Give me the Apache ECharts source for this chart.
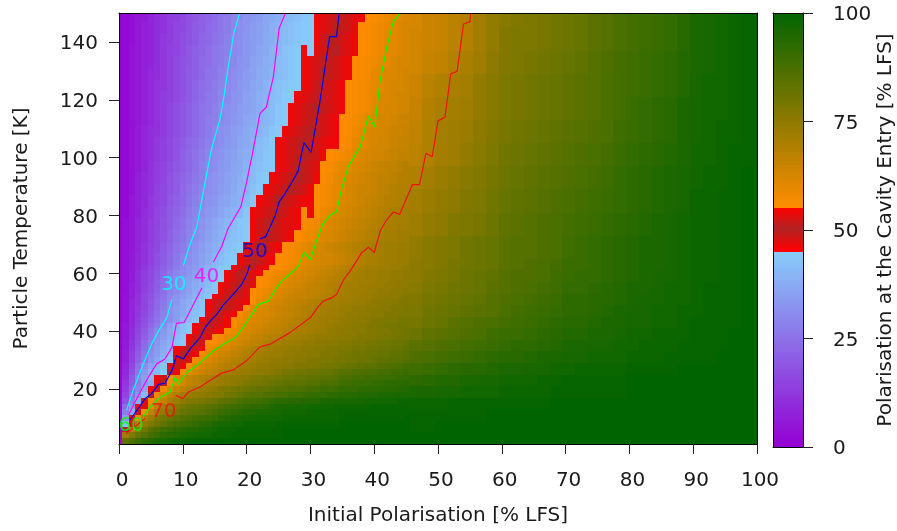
<!DOCTYPE html>
<html>
<head>
<meta charset="utf-8">
<script src="https://cdn.jsdelivr.net/npm/echarts@6/dist/echarts.min.js"></script>
<style>html,body{margin:0;background:#fff}#chart{width:897px;height:531px}</style>
</head>
<body>
<div id="chart"></div>
<script>
// temperature band edges of the rows in leftRows [K]
const rowEdges = [1,3,5,7,9,11,13,15,17,19,21,23,25,27,29,31,33,35,37,39,41,43,45,47,49,51,53,55,57,59,61,63,67,71,75,79,83,87,91,95,99,103,107,111,115,119,123,127,131,135,139,143,147,150];
// polarisation for initial polarisation 0..45 %, one row per temperature band
const leftRows = [
[2,83,87,90,92,94,95,96,97,98,98,99,99,99,99,99,100,100,100,100,100,100,100,100,100,100,100,100,100,100,100,100,100,100,100,100,100,100,100,100,100,100,100,100,100,100],
[2,72,78,82,85,88,90,92,93,94,95,96,96,97,97,98,98,98,99,99,99,99,99,99,99,99,100,100,100,100,100,100,100,100,100,100,100,100,100,100,100,100,100,100,100,100],
[2,50,68,76,80,85,87,89,90,92,93,94,94,95,96,97,98,98,98,99,99,99,99,99,99,99,100,100,100,100,100,100,100,100,100,100,100,100,100,100,100,100,100,100,100,100],
[2,42,54,68,74,78,81,83,86,88,89,90,91,92,93,95,96,96,97,97,98,98,98,98,98,99,99,99,99,99,99,99,99,99,99,100,100,100,100,100,100,100,100,100,100,100],
[2,33,46,58,69,73,77,80,82,84,86,87,88,89,90,91,93,94,95,95,96,96,97,97,97,97,98,98,98,98,98,98,98,98,98,99,99,99,99,99,99,99,99,99,99,100],
[2,27,38,51,57,66,71,74,77,79,82,83,84,85,86,88,90,91,92,93,94,94,95,95,96,96,97,97,97,97,98,98,98,98,98,99,99,99,99,99,99,99,99,99,99,99],
[2,23,34,46,53,60,67,71,74,77,79,81,82,83,84,85,87,88,89,90,91,92,92,93,94,95,95,96,96,96,97,97,97,97,98,98,98,98,98,98,99,99,99,99,99,99],
[2,18,28,38,47,56,62,66,70,73,76,77,78,79,80,81,83,84,85,87,88,88,89,90,91,92,92,93,93,94,94,94,95,95,95,96,96,96,96,97,97,97,97,97,98,98],
[2,15,24,33,41,50,58,62,66,69,72,73,74,75,76,77,78,80,81,82,84,85,85,86,87,88,88,89,89,90,91,91,91,92,92,93,93,93,94,94,94,95,95,95,96,96],
[2,13,22,29,36,46,52,58,61,64,67,69,71,73,74,75,77,78,79,80,81,82,83,83,84,85,85,86,86,87,88,88,89,89,90,91,91,91,92,92,92,93,93,93,94,94],
[2,12,20,27,34,38,46,50,56,59,62,65,67,69,71,72,73,74,75,76,78,79,79,80,81,82,83,83,84,84,85,85,86,86,87,89,89,90,90,90,91,91,92,92,92,93],
[2,10,19,29,35,41,46,48,56,60,63,65,67,69,70,72,73,74,75,75,76,77,78,79,79,80,81,81,82,82,83,83,84,84,85,87,87,88,88,89,89,89,90,90,91,91],
[2,9,17,26,33,39,41,44,50,54,56,60,62,64,66,67,69,71,72,73,73,74,75,75,76,77,79,79,80,80,81,81,82,82,83,85,85,86,86,87,87,88,88,89,89,90],
[1,8,16,24,31,36,40,43,47,51,54,56,60,62,64,65,67,68,69,71,72,73,74,74,75,75,76,76,77,77,78,78,79,80,80,81,82,82,83,84,84,85,86,86,87,88],
[1,7,14,21,27,32,36,40,43,47,51,53,56,58,61,63,65,66,68,69,70,71,72,73,74,74,75,75,76,76,77,77,78,78,79,79,80,80,81,81,82,83,83,84,84,85],
[1,7,13,20,26,31,34,38,41,46,50,52,54,56,59,61,63,64,66,67,69,70,71,72,73,73,74,74,75,75,76,76,77,77,78,79,79,80,80,81,81,82,82,83,83,84],
[1,6,12,18,24,30,34,37,39,46,48,50,52,54,56,59,61,62,64,66,67,69,70,71,72,73,73,74,74,75,75,76,76,77,77,78,78,79,79,80,80,81,81,82,82,83],
[1,6,11,17,23,28,33,36,39,42,44,47,50,52,55,56,58,60,62,63,65,66,67,69,70,71,72,72,73,74,74,75,75,76,76,77,77,78,78,79,79,80,80,81,81,82],
[1,5,10,16,21,26,31,34,37,41,43,46,48,51,53,55,57,59,60,62,63,65,66,67,68,69,70,71,71,72,73,74,74,74,75,75,76,76,77,77,78,78,79,79,80,80],
[1,5,10,15,20,25,29,33,37,40,42,44,46,50,52,53,54,56,58,60,62,63,64,65,66,67,68,69,70,70,71,72,73,74,74,75,75,76,76,77,77,78,78,79,79,80],
[1,5,9,14,18,23,27,31,35,39,42,44,46,48,50,52,53,54,56,60,61,62,63,64,65,66,67,68,69,70,71,71,72,73,74,74,75,76,76,77,78,78,79,79,80,80],
[1,4,8,13,17,21,25,29,31,34,39,41,43,46,49,51,52,54,56,58,59,61,62,63,64,65,66,67,68,69,70,71,72,72,73,74,74,75,75,76,77,77,78,78,79,79],
[1,4,8,12,16,20,24,28,31,34,37,40,42,44,47,49,51,53,54,56,59,60,61,62,63,64,65,66,67,68,70,70,71,72,72,73,74,74,75,75,76,76,77,77,78,78],
[1,4,8,12,15,19,23,27,31,34,36,39,41,43,46,48,50,51,52,53,55,59,61,62,63,64,65,66,67,68,69,70,71,71,72,73,73,74,74,75,75,76,76,77,77,78],
[1,4,8,11,15,19,23,26,30,33,36,38,41,43,46,48,49,51,52,53,54,56,59,60,62,63,64,65,66,67,68,69,70,71,71,72,72,73,73,74,75,75,76,76,77,77],
[1,4,7,11,15,18,22,25,29,32,34,37,39,41,43,46,47,49,50,52,53,55,57,59,60,62,63,64,65,65,66,67,68,69,70,71,71,72,73,73,74,74,75,75,76,77],
[1,3,7,10,14,17,21,24,28,30,33,35,38,40,42,44,46,48,49,51,53,55,57,58,59,61,62,63,64,65,66,66,67,68,70,70,71,72,72,73,73,74,74,75,75,76],
[1,3,7,10,13,17,20,24,27,30,32,35,37,39,41,43,46,47,49,50,52,53,55,57,58,60,61,62,63,64,65,66,67,68,69,70,71,71,72,72,73,73,74,74,75,75],
[1,3,6,10,13,16,20,23,26,30,32,34,36,38,41,42,44,46,48,49,51,53,55,56,58,59,60,61,62,63,64,65,66,67,68,69,70,71,71,72,72,73,73,74,74,75],
[1,3,6,10,13,16,19,22,26,29,31,33,35,38,40,42,44,46,48,50,51,53,54,56,57,58,59,60,61,62,63,64,65,66,67,68,70,70,71,72,72,73,73,74,74,75],
[1,3,6,9,12,15,18,21,24,27,30,32,34,36,39,41,43,44,46,48,49,51,53,54,55,56,57,58,60,61,62,63,64,65,66,67,68,69,70,71,71,72,72,73,73,74],
[1,3,6,9,11,14,17,20,23,26,29,31,33,35,37,40,41,43,44,46,48,50,51,53,54,55,56,57,58,60,61,62,63,63,64,65,66,67,68,70,70,71,72,72,73,73],
[1,3,5,8,11,14,16,19,22,25,27,30,32,34,36,38,40,42,43,44,46,48,50,51,53,54,55,57,58,60,61,62,63,64,65,66,67,68,69,70,71,71,72,72,73,73],
[1,3,5,8,10,13,16,18,21,24,26,29,31,33,35,37,39,41,42,43,44,46,48,50,51,52,53,54,55,57,58,59,61,62,63,64,65,66,67,68,69,70,71,71,72,72],
[1,3,5,8,10,13,15,18,20,23,25,28,30,32,34,36,38,40,41,43,44,46,48,49,50,52,53,53,54,56,57,58,60,61,62,63,64,65,66,67,68,69,70,70,71,71],
[1,2,5,7,10,12,15,17,20,22,24,27,29,31,33,34,36,38,39,40,43,46,47,48,49,51,52,53,54,56,54,56,58,59,61,62,63,64,65,66,67,68,69,70,70,71],
[1,2,5,7,9,12,14,16,19,21,23,26,28,30,32,33,35,36,38,39,41,43,46,47,48,50,51,52,53,54,54,55,57,58,59,61,62,63,64,65,66,67,68,68,69,70],
[1,2,4,7,9,11,14,16,18,20,23,25,27,29,31,32,34,35,37,39,40,42,44,46,47,48,49,50,51,52,54,55,57,58,59,60,62,63,64,64,65,66,67,68,69,69],
[1,2,4,7,9,11,13,15,18,20,22,24,26,28,31,32,33,35,36,38,40,41,43,44,46,47,48,49,50,51,52,54,56,57,59,60,61,62,63,64,65,66,66,67,68,68],
[1,2,4,6,8,11,13,15,17,19,21,23,25,28,30,31,33,34,36,37,39,41,42,43,44,46,47,48,50,51,52,53,55,56,58,59,60,61,62,63,64,65,66,66,67,68],
[1,2,4,6,8,10,12,14,16,18,21,23,25,27,29,31,32,34,35,37,38,40,41,43,44,46,47,48,49,50,51,52,54,55,56,57,58,60,61,62,63,63,64,65,66,66],
[1,2,4,6,8,10,12,14,16,18,20,22,24,26,28,30,31,33,34,36,37,39,41,42,44,46,47,48,49,50,51,52,53,54,54,55,57,59,60,61,62,63,63,64,65,65],
[1,2,4,6,8,10,11,13,15,17,19,21,23,25,27,29,31,32,34,35,37,38,39,41,43,44,46,47,48,49,50,51,52,53,54,55,56,58,59,61,62,62,63,64,64,65],
[1,2,4,5,7,9,11,13,15,17,19,21,23,25,27,28,30,31,33,34,36,37,39,40,41,43,44,46,47,48,49,51,52,53,54,55,56,57,58,60,61,62,62,63,64,64],
[1,2,4,5,7,9,11,13,15,17,19,21,23,25,26,28,30,31,32,34,35,36,38,40,41,43,44,46,47,48,49,50,51,52,53,54,55,56,57,58,60,61,62,62,63,63],
[1,2,4,5,7,9,11,13,14,16,18,20,22,24,26,27,29,30,32,33,35,36,38,39,41,42,44,44,46,47,48,49,51,52,53,54,55,56,57,58,59,61,61,62,63,63],
[1,2,4,5,7,9,11,12,14,16,18,20,22,24,25,27,29,30,31,33,34,36,37,39,41,42,43,44,44,46,47,49,51,52,53,54,55,56,57,58,59,60,61,62,62,63],
[1,2,4,5,7,9,10,12,14,16,18,20,21,23,25,26,28,29,31,32,34,35,37,38,40,41,42,43,44,46,47,48,50,51,52,53,54,55,56,57,59,60,61,61,62,63],
[1,2,4,5,7,8,10,12,14,16,18,19,21,23,24,26,27,29,30,32,33,35,36,38,39,41,42,43,44,46,47,48,49,51,52,53,54,55,56,57,58,59,60,61,62,62],
[1,2,4,5,7,8,10,12,14,15,17,19,21,22,24,26,27,28,30,31,33,34,36,37,39,40,42,43,44,46,44,47,48,49,50,52,53,54,55,56,57,58,60,60,61,62],
[1,2,3,5,7,8,10,12,13,15,17,18,20,22,23,25,26,28,30,31,33,34,35,37,38,40,41,42,43,44,44,46,48,50,51,52,53,54,55,56,57,58,60,60,61,62],
[1,2,3,5,7,8,10,11,13,15,16,18,20,21,23,24,26,27,29,31,32,34,35,36,38,40,41,42,43,44,44,46,47,48,50,51,52,53,55,56,57,58,59,60,61,62],
[1,2,3,5,6,8,10,11,13,14,16,18,19,21,22,24,26,27,29,30,32,33,34,36,37,38,40,41,42,43,44,46,47,48,49,51,52,53,54,55,56,57,58,59,60,61]
];
// right part of the map, varies slowly so it is read on a coarser grid
const tailEdgesT = [1,5,9,13,17,21,25,29,33,37,41,45,49,53,57,61,65,73,81,89,97,105,113,121,129,137,145,150];
const tailEdgesX = [45.5,47.5,49.5,51.5,53.5,55.5,57.5,59.5,61.5,63.5,65.5,67.5,69.5,71.5,73.5,75.5,77.5,79.5,81.5,83.5,85.5,87.5,89.5,91.5,93.5,95.5,97.5,99.5,100];
const tailRows = [
[100,100,100,100,100,100,100,100,100,100,100,100,100,100,100,100,100,100,100,100,100,100,100,100,100,100,100,100],
[99,99,100,100,100,100,100,100,100,100,100,100,100,100,100,100,100,100,100,100,100,100,100,100,100,100,100,100],
[99,99,99,99,99,99,100,100,100,100,100,100,100,100,100,100,100,100,100,100,100,100,100,100,100,100,100,100],
[98,98,98,99,99,99,99,99,99,99,99,100,100,100,100,100,100,100,100,100,100,100,100,100,100,100,100,100],
[95,95,96,96,97,97,97,98,98,98,98,99,99,99,99,99,99,100,100,100,100,100,100,100,100,100,100,100],
[92,93,94,94,95,96,96,97,97,97,98,98,99,99,99,99,99,100,100,100,100,100,100,100,100,100,100,100],
[89,90,91,92,93,93,94,95,95,96,96,97,97,98,98,98,98,99,99,99,99,100,100,100,100,100,100,100],
[86,87,88,89,90,91,92,93,93,94,95,95,96,96,97,97,97,98,98,98,99,99,99,99,100,100,100,100],
[84,85,86,87,88,89,90,91,92,92,93,94,95,95,96,96,97,97,98,98,98,99,99,99,99,100,100,100],
[81,83,84,85,86,87,89,90,90,91,92,93,94,94,95,95,96,97,97,98,98,98,99,99,99,100,100,100],
[79,81,82,84,85,86,87,88,89,90,91,92,93,93,94,95,95,96,96,97,97,98,99,99,99,99,100,100],
[78,80,81,82,83,84,85,87,88,89,90,91,92,92,93,94,95,96,96,97,97,98,98,99,99,99,100,100],
[77,79,80,81,82,83,85,86,87,88,89,90,92,92,93,93,94,95,96,96,97,97,98,99,99,99,100,100],
[76,78,79,80,81,82,84,85,86,87,88,89,91,91,92,93,94,95,95,96,97,97,98,99,99,99,100,100],
[75,77,78,79,81,82,83,85,86,86,87,89,90,91,91,92,93,94,95,96,96,97,98,98,99,99,100,100],
[75,76,77,79,80,81,82,84,85,86,87,88,90,90,91,92,93,94,95,95,96,97,98,98,99,99,100,100],
[74,76,77,78,80,81,82,84,85,85,86,87,89,90,91,92,93,94,95,95,96,97,98,98,99,99,100,100],
[72,74,75,77,78,79,81,83,84,85,86,87,88,89,90,91,92,93,94,95,96,97,98,98,99,99,100,100],
[71,73,74,75,77,78,80,82,83,84,85,86,87,88,89,90,91,92,93,94,95,96,98,98,99,99,100,100],
[69,71,73,74,76,77,79,81,82,83,84,85,86,87,88,89,91,92,93,94,95,96,97,98,98,99,100,100],
[67,69,71,72,74,76,78,80,81,82,83,84,85,86,87,88,90,91,92,93,94,95,97,97,98,99,99,100],
[66,69,71,72,73,75,77,79,80,81,82,83,84,85,86,87,89,90,91,92,93,95,96,97,98,98,99,100],
[65,68,70,71,72,74,76,78,79,80,81,82,83,84,85,87,88,90,91,92,93,95,96,97,97,98,99,100],
[64,67,69,70,71,74,76,78,79,80,81,82,83,84,85,87,88,89,90,91,92,94,96,97,97,98,99,100],
[63,65,66,68,70,72,75,77,78,79,80,81,82,83,85,86,88,89,90,91,92,94,95,96,97,98,99,100],
[63,64,65,67,68,71,74,77,78,78,79,80,81,82,84,85,87,88,89,90,91,93,95,96,97,98,99,100],
[62,64,65,67,68,71,74,76,77,78,79,80,81,82,84,85,87,88,89,90,91,93,95,96,97,98,99,100]
];

// contour lines as [initial polarisation, temperature], ['-','-'] leaves the gap round a label
const contour30 = [[1.2,12.7],[2.2,19.5],[3.8,28.7],[5.1,35.5],[6.2,40.1],[7.5,44.7],[8.3,51],['-','-'],[10.1,62.7],[11.1,69.8],[12.2,76.1],[13.5,91.5],[14.5,103],[15.8,113],[16.5,121.8],[17.1,131],[18,143],[18.9,150]];
const contour40 = [[1.5,11],[2.5,15.5],[3.6,20.1],[4.6,24.1],[5.9,28.7],[7.2,30.4],[8.3,34.4],[9,42.7],[10.2,43],[11.4,48.1],[11.6,48.4],[13,55],['-','-'],[14.8,63.9],[16.1,69.3],[17.1,75.5],[19.1,83],[20,91.5],[20.9,101.2],[22.1,115.2],[23.1,117.5],[24.2,128],[25.1,144.7],[26.1,150]];
const contour50 = [[1.7,9.3],[3,13.2],[4.1,16.7],[5.1,18.4],[6.2,21.6],[7.2,22],[8.3,26.4],[9,31.5],[10.1,30.4],[11.1,33.8],[12.7,37.8],[13.5,41.3],[14.3,43.5],[15.3,45.8],[16.4,49.2],[17.9,52.7],[19.2,56.1],[20,59.5],[20.5,63],['-','-'],[22.1,71.9],[23,72.7],[23.7,76.1],[24.5,80.1],[25.1,84.7],[26,87.5],[27.1,91.5],[28.1,95.5],[28.6,101.2],[29,105.2],[30.1,101.8],[31.5,119.5],[33,141.8],[34.1,141.8],[34.5,150]];
const contour60 = [[3.8,10.5],[4.9,13.8],[6.2,16.7],[8,19],[8.8,24.1],[9.3,21.6],[10.7,25.8],[12.2,28.1],[13.7,31],[14.8,33.2],[16.4,35.5],[18.2,37.8],[19.5,41.3],[20.5,44.7],[21.8,49.2],[23.4,50.4],[24.7,55],[25.5,57.3],[27.3,60.7],[28.1,62.4],[29,67.3],[30,64.7],[31,71.5],[32,77.2],[33.1,80.1],[34.1,81.3],[34.9,89.2],[35.9,96.7],[37.8,103.7],[39.1,114.4],[40.1,110.6],[40.9,126.4],[42,138.4],[43,147],[44.1,150]];
const contour70 = [[1.1,4.5],[2.5,7],[4.1,9.8],['-','-'],[8.9,17.8],[10,16.7],[10.9,19],[12.7,20.7],[14.3,23],[16.1,25.5],[17.9,26.6],[20,29.8],[22.1,34.6],[23.7,35.5],[26.8,39.5],[30,44.7],[31.2,48.4],[32,50.4],[33.3,51.5],[34.1,52.7],[35.2,57.8],[36.2,60.7],[38,67],[39.1,69],[40,67.2],[41,75],[42,78.6],[43,81.2],[44,80.4],[46,90.7],[47.1,90.7],[48.1,101.5],[49.1,100.3],[50,112.7],[51.1,114],[52,129],[53,129.8],[54,146.2],[55,147],[55.1,150]];

const contourLines = [contour30, contour40, contour50, contour60, contour70];
const contourNames = ["30", "40", "50", "60", "70"];
const contourColors = ["#00ffff", "#ff00ff", "#0000ee", "#00ff00", "#ee1100"];
const contourLabelPos = [[8.6,56],[13.7,58.8],[21.3,67.3],[1.9,7.3],[7,12.1]];

// colour map: purple to light blue, red band round 50, then orange to green
const paletteStops = [0, 45, 45, 50, 55, 55, 100];
const paletteColors = ["#9400d3", "#87cefa", "#ff0000", "#b22222", "#ff0000", "#ff8c00", "#006400"];

const xTicks = [0, 10, 20, 30, 40, 50, 60, 70, 80, 90, 100];
const yTicks = [20, 40, 60, 80, 100, 120, 140];
const barTicks = [0, 25, 50, 75, 100];

const textColor = "#1a1a1a";
const fontFamily = "DejaVu Sans";

function hexToRgb(hex) {
  return [1, 3, 5].map((i) => parseInt(hex.slice(i, i + 2), 16));
}

function colorAt(v) {
  let i = paletteStops.length - 2;
  for (let k = 0; k < paletteStops.length - 1; k++) {
    if (v < paletteStops[k + 1]) { i = k; break; }
  }
  const t = (v - paletteStops[i]) / (paletteStops[i + 1] - paletteStops[i]);
  const a = hexToRgb(paletteColors[i]);
  const b = hexToRgb(paletteColors[i + 1]);
  return "rgb(" + a.map((c, n) => Math.round(c + (b[n] - c) * t)).join(",") + ")";
}

// visualMap colours every 0.5 units so the breaks at 45 and 55 stay sharp
const visualColors = [];
for (let v = 0; v <= 100; v += 0.5) visualColors.push(colorAt(v));

const cells = [];
leftRows.forEach((row, r) => {
  row.forEach((value, c) => {
    cells.push([Math.max(0, c - 0.5), c + 0.5, rowEdges[r], rowEdges[r + 1], value]);
  });
});
tailRows.forEach((row, r) => {
  row.forEach((value, c) => {
    cells.push([tailEdgesX[c], tailEdgesX[c + 1], tailEdgesT[r], tailEdgesT[r + 1], value]);
  });
});

const barCells = [];
for (let v = 0; v < 100; v += 0.5) barCells.push([0, 1, v, v + 0.5, v]);

function renderCell(params, api) {
  const p0 = api.coord([api.value(0), api.value(2)]);
  const p1 = api.coord([api.value(1), api.value(3)]);
  const x = Math.round(p0[0]);
  const y = Math.round(p1[1]);
  return {
    type: "rect",
    shape: { x: x, y: y, width: Math.round(p1[0]) - x, height: Math.round(p0[1]) - y },
    style: { fill: api.visual("color") },
  };
}

function baseAxis(gridIndex, position, min, max) {
  return {
    type: "value",
    gridIndex: gridIndex,
    position: position,
    min: min,
    max: max,
    z: 5,
    splitLine: { show: false },
    axisLine: { show: true, onZero: false, lineStyle: { color: "#000", width: 1 } },
    axisTick: { show: false },
    axisLabel: { show: false },
  };
}

function tickedAxis(gridIndex, position, min, max, ticks, name, nameGap, margin) {
  const isX = position === "bottom";
  return Object.assign(baseAxis(gridIndex, position, min, max), {
    name: name,
    nameLocation: "middle",
    nameGap: nameGap,
    nameRotate: isX ? 0 : 90,
    nameTextStyle: { color: textColor, fontSize: 20, fontFamily: fontFamily },
    axisTick: { show: true, length: 10, customValues: ticks, lineStyle: { color: "#222", width: 1 } },
    axisLabel: {
      show: true,
      customValues: ticks,
      color: textColor,
      fontSize: 20,
      fontFamily: fontFamily,
      margin: margin,
      padding: isX ? [0, 0, 0, 6] : 0,
      // a short line box hung from the tick brings the digits level with it
      verticalAlign: isX ? undefined : "top",
      lineHeight: isX ? undefined : 4,
    },
  });
}

const series = [
  {
    type: "custom",
    xAxisIndex: 0,
    yAxisIndex: 0,
    renderItem: renderCell,
    encode: { x: [0, 1], y: [2, 3] },
    data: cells,
    silent: true,
    progressive: 0,
  },
  {
    type: "custom",
    xAxisIndex: 2,
    yAxisIndex: 2,
    renderItem: renderCell,
    encode: { x: [0, 1], y: [2, 3] },
    data: barCells,
    silent: true,
    progressive: 0,
  },
];

contourLines.forEach((line, i) => {
  series.push({
    type: "line",
    name: contourNames[i],
    xAxisIndex: 0,
    yAxisIndex: 0,
    data: line,
    z: 3,
    symbol: "none",
    silent: true,
    connectNulls: false,
    lineStyle: { color: contourColors[i], width: 1.2 },
  });
  series.push({
    type: "scatter",
    xAxisIndex: 0,
    yAxisIndex: 0,
    data: [contourLabelPos[i]],
    z: 4,
    symbolSize: 0,
    silent: true,
    label: {
      show: true,
      position: "inside",
      formatter: contourNames[i],
      color: contourColors[i],
      fontSize: 20,
      fontFamily: fontFamily,
    },
  });
});

const chart = echarts.init(document.getElementById("chart"));

chart.setOption({
  animation: false,
  backgroundColor: "#fff",
  grid: [
    { left: 119, top: 13, width: 638, height: 434 },
    { left: 773, top: 13, width: 31, height: 434 },
  ],
  xAxis: [
    tickedAxis(0, "bottom", 0, 100, xTicks, "Initial Polarisation [% LFS]", 62, 27),
    baseAxis(0, "top", 0, 100),
    baseAxis(1, "bottom", 0, 1),
    baseAxis(1, "top", 0, 1),
  ],
  yAxis: [
    tickedAxis(0, "left", 1, 150, yTicks, "Particle Temperature [K]", 87, 21),
    baseAxis(0, "right", 1, 150),
    baseAxis(1, "left", 0, 100),
    tickedAxis(1, "right", 0, 100, barTicks, "Polarisation at the Cavity Entry [% LFS]", 73, 30),
  ],
  visualMap: {
    show: false,
    type: "continuous",
    min: 0,
    max: 100,
    dimension: 4,
    seriesIndex: [0, 1],
    inRange: { color: visualColors },
  },
  series: series,
});
</script>
</body>
</html>
